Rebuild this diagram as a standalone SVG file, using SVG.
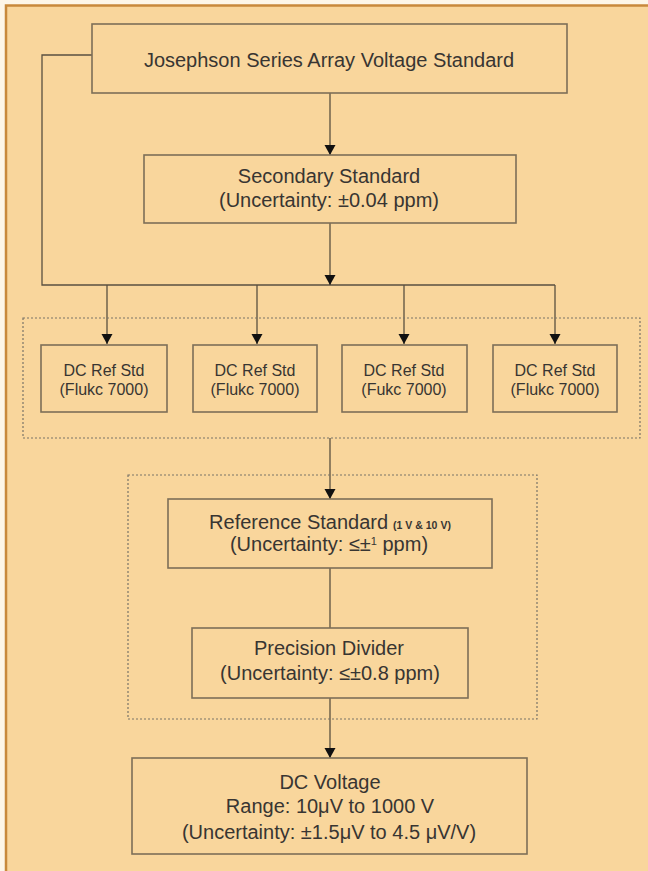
<svg xmlns="http://www.w3.org/2000/svg" width="648" height="871" viewBox="0 0 648 871">
<defs>
<marker id="arr" viewBox="0 0 10 14" refX="10" refY="7" markerWidth="11" markerHeight="14" markerUnits="userSpaceOnUse" orient="auto">
<path d="M0,1.5 L10,7 L0,12.5 Z" fill="#111"/>
</marker>
<style>
.box{fill:none;stroke:#7d6f58;stroke-width:1.6}
.grp{fill:none;stroke:#7a7468;stroke-width:1.2;stroke-dasharray:2 2}
.ln{fill:none;stroke:#5a5040;stroke-width:1.3}
text{font-family:"Liberation Sans",Arial,sans-serif;fill:#383532;text-anchor:middle}
.t20{font-size:20px}
.t16{font-size:16px}
.sm{font-size:10.5px;font-weight:bold}
</style>
</defs>
<rect x="0" y="0" width="648" height="871" fill="#fdf6e9"/>
<rect x="6" y="5.5" width="680" height="900" fill="#f9d69c" stroke="#c8893c" stroke-width="2.5"/>

<g id="connectors">
<path class="ln" d="M330,93 V155" marker-end="url(#arr)"/>
<path class="ln" d="M92,55 H42 V285 H555"/>
<path class="ln" d="M330,223 V285" marker-end="url(#arr)"/>
<path class="ln" d="M107,285 V344" marker-end="url(#arr)"/>
<path class="ln" d="M257,285 V344" marker-end="url(#arr)"/>
<path class="ln" d="M404,285 V344" marker-end="url(#arr)"/>
<path class="ln" d="M555,285 V344" marker-end="url(#arr)"/>
<path class="ln" d="M330,438 V499" marker-end="url(#arr)"/>
<path class="ln" d="M330,568 V628"/>
<path class="ln" d="M330,698 V758" marker-end="url(#arr)"/>
</g>

<g id="group-dcref">
<rect class="grp" x="23" y="318" width="617" height="120"/>
</g>
<g id="group-ref">
<rect class="grp" x="128" y="475" width="409" height="244"/>
</g>

<g id="josephson">
<rect class="box" x="92" y="24" width="475" height="69"/>
<text class="t20" x="329" y="67">Josephson Series Array Voltage Standard</text>
</g>

<g id="secondary">
<rect class="box" x="144" y="155" width="372" height="68"/>
<text class="t20" x="329" y="183">Secondary Standard</text>
<text class="t20" x="329" y="207">(Uncertainty: ±0.04 ppm)</text>
</g>

<g id="dcref1">
<rect class="box" x="41" y="345" width="126" height="67"/>
<text class="t16" x="104" y="376">DC Ref Std</text>
<text class="t16" x="104" y="395">(Flukc 7000)</text>
</g>
<g id="dcref2">
<rect class="box" x="193" y="345" width="124" height="67"/>
<text class="t16" x="255" y="376">DC Ref Std</text>
<text class="t16" x="255" y="395">(Flukc 7000)</text>
</g>
<g id="dcref3">
<rect class="box" x="342" y="345" width="125" height="67"/>
<text class="t16" x="404" y="376">DC Ref Std</text>
<text class="t16" x="404" y="395">(Fukc 7000)</text>
</g>
<g id="dcref4">
<rect class="box" x="493" y="345" width="124" height="67"/>
<text class="t16" x="555" y="376">DC Ref Std</text>
<text class="t16" x="555" y="395">(Flukc 7000)</text>
</g>

<g id="reference">
<rect class="box" x="168" y="499" width="324" height="69"/>
<text class="t20" x="330" y="529"><tspan>Reference Standard</tspan><tspan class="sm" dx="5">(1 V &amp; 10 V)</tspan></text>
<text class="t20" x="329" y="551">(Uncertainty: ≤±<tspan font-size="11px" dy="-6">1</tspan><tspan dy="6"> ppm)</tspan></text>
</g>

<g id="divider">
<rect class="box" x="192" y="628" width="276" height="70"/>
<text class="t20" x="329" y="655">Precision Divider</text>
<text class="t20" x="330" y="680">(Uncertainty: ≤±0.8 ppm)</text>
</g>

<g id="dcvoltage">
<rect class="box" x="132" y="758" width="395" height="96"/>
<text class="t20" x="330" y="789">DC Voltage</text>
<text class="t20" x="330" y="813">Range: 10μV to 1000 V</text>
<text class="t20" x="329" y="839">(Uncertainty: ±1.5μV to 4.5 μV/V)</text>
</g>
</svg>
